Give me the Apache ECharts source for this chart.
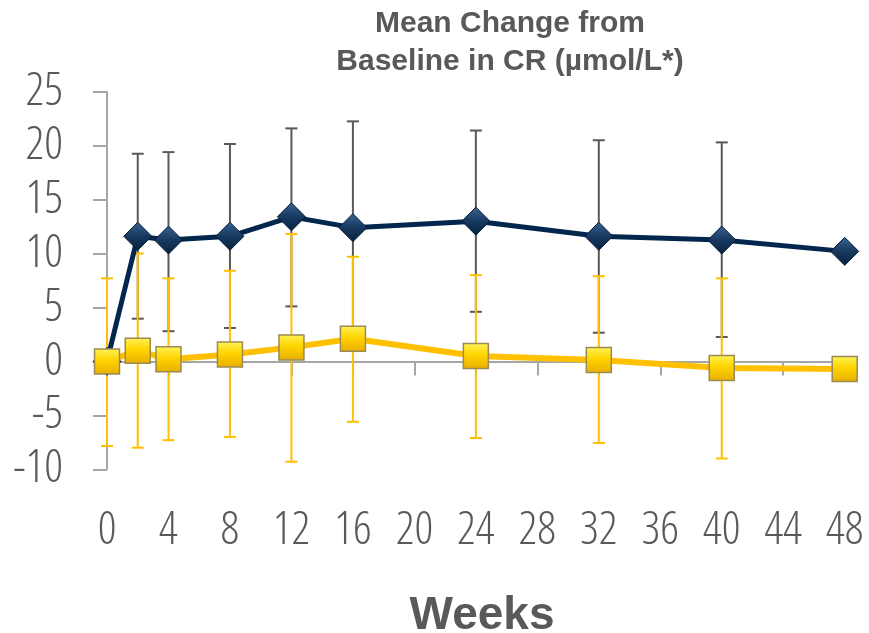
<!DOCTYPE html>
<html>
<head>
<meta charset="utf-8">
<script src="https://cdn.jsdelivr.net/npm/echarts@6/dist/echarts.min.js"></script>
<style>
  html, body { margin: 0; padding: 0; background: #ffffff; }
  #chart { width: 869px; height: 633px; }
</style>
</head>
<body>
<div id="chart"></div>
<script>
// Study weeks at which the measurements were taken
const weeks = [0, 2, 4, 8, 12, 16, 24, 32, 40, 48];
// Tick / label positions on the week axis
const weekTicks = [0, 4, 8, 12, 16, 20, 24, 28, 32, 36, 40, 44, 48];

// Navy series: mean change and error-bar limits
const navyMean  = [0, 11.6, 11.25, 11.6, 13.4, 12.4, 13.0, 11.6, 11.25, 10.2];
const navyUpper = [0, 19.25, 19.4, 20.15, 21.6, 22.25, 21.4, 20.5, 20.3, null];
const navyLower = [0, 3.96, 2.8, 3.1, 5.1, 2.6, 4.6, 2.66, 2.26, null];

// Gold series: mean change and error-bar limits
const goldMean  = [0, 1.0, 0.2, 0.65, 1.3, 2.1, 0.5, 0.13, -0.6, -0.7];
const goldUpper = [7.7, 10.0, 7.7, 8.4, 11.8, 9.7, 8.0, 7.9, 7.7, null];
const goldLower = [-7.84, -8.0, -7.3, -7.0, -9.3, -5.6, -7.1, -7.56, -9.0, null];

const yTicks = { min: -10, max: 25, step: 5 };

const NAVY = '#03264d';
const GOLD = '#ffc000';
const GREY_TEXT = '#595959';
const AXIS_GREY = '#a6a6a6';
// light, condensed face for the numeric tick labels
const TICK_FONT = { family: "'Open Sans', sans-serif", weight: '300 condensed', size: 46 };

function pairs(ys) { return weeks.map((w, i) => [w, ys[i]]); }
function errRows(lo, hi) {
  return weeks.map((w, i) => [w, lo[i], hi[i]]).filter(r => r[1] != null && r[2] != null);
}

function errorBarSeries(rows, color, width, z) {
  return {
    type: 'custom',
    z: z,
    silent: true,
    data: rows,
    encode: { x: 0, y: [1, 2] },
    renderItem: function (params, api) {
      const x = api.value(0);
      const lo = api.coord([x, api.value(1)]);
      const hi = api.coord([x, api.value(2)]);
      const half = 6;
      const style = { stroke: color, lineWidth: width, fill: null };
      return {
        type: 'group',
        children: [
          { type: 'line', shape: { x1: lo[0], y1: lo[1], x2: hi[0], y2: hi[1] }, style: style },
          { type: 'line', shape: { x1: hi[0] - half, y1: hi[1], x2: hi[0] + half, y2: hi[1] }, style: style },
          { type: 'line', shape: { x1: lo[0] - half, y1: lo[1], x2: lo[0] + half, y2: lo[1] }, style: style }
        ]
      };
    }
  };
}

const chart = echarts.init(document.getElementById('chart'), null, { renderer: 'canvas' });

chart.setOption({
  animation: false,
  backgroundColor: '#ffffff',
  title: {
    text: 'Mean Change from\nBaseline in CR (µmol/L*)',
    left: 505,
    top: 0,
    textAlign: 'center',
    textStyle: {
      fontFamily: 'Liberation Sans, Arial, sans-serif',
      fontSize: 30,
      fontWeight: 'bold',
      color: GREY_TEXT,
      lineHeight: 38
    }
  },
  grid: { left: 107, right: 12, top: 91.7, bottom: 163.7, containLabel: false, outerBoundsMode: 'none' },
  xAxis: [
    {
      // axis line through zero with downward ticks
      type: 'value',
      min: 0,
      max: 48.8,
      axisLine: { show: true, onZero: true, lineStyle: { color: AXIS_GREY, width: 2 } },
      axisTick: { show: true, length: 14, inside: false, customValues: weekTicks, lineStyle: { color: AXIS_GREY, width: 2 } },
      axisLabel: { show: false },
      splitLine: { show: false }
    },
    {
      // week labels along the bottom edge
      type: 'value',
      min: 0,
      max: 48.8,
      position: 'bottom',
      axisLine: { show: false, onZero: false },
      axisTick: { show: false },
      splitLine: { show: false },
      axisLabel: {
        show: true,
        customValues: weekTicks,
        margin: 39,
        fontFamily: TICK_FONT.family,
        fontWeight: TICK_FONT.weight,
        fontSize: TICK_FONT.size,
        color: GREY_TEXT
      },
      name: 'Weeks',
      nameLocation: 'middle',
      nameGap: 124,
      nameTextStyle: {
        fontFamily: 'Liberation Sans, Arial, sans-serif',
        fontSize: 46,
        fontWeight: 'bold',
        color: GREY_TEXT
      }
    }
  ],
  yAxis: {
    type: 'value',
    min: yTicks.min,
    max: yTicks.max,
    interval: yTicks.step,
    axisLine: { show: true, onZero: false, lineStyle: { color: AXIS_GREY, width: 2 } },
    axisTick: { show: true, length: 14, inside: false, lineStyle: { color: AXIS_GREY, width: 2 } },
    splitLine: { show: false },
    axisLabel: {
      margin: 44,
      fontFamily: TICK_FONT.family,
      fontWeight: TICK_FONT.weight,
      fontSize: TICK_FONT.size,
      color: GREY_TEXT
    }
  },
  series: [
    errorBarSeries(errRows(navyLower, navyUpper), '#595959', 2, 1),
    errorBarSeries(errRows(goldLower, goldUpper), GOLD, 2, 2),
    {
      type: 'line',
      z: 3,
      data: pairs(navyMean),
      lineStyle: { color: NAVY, width: 5 },
      symbol: 'diamond',
      symbolSize: [28, 28],
      itemStyle: {
        color: new echarts.graphic.LinearGradient(0, 0, 0, 1, [
          { offset: 0, color: '#3a6494' },
          { offset: 0.5, color: '#17395f' },
          { offset: 1, color: '#06213f' }
        ]),
        borderColor: '#061a33',
        borderWidth: 1
      }
    },
    {
      type: 'line',
      z: 4,
      data: pairs(goldMean),
      lineStyle: { color: GOLD, width: 6 },
      symbol: 'rect',
      symbolSize: 25,
      itemStyle: {
        color: new echarts.graphic.LinearGradient(0, 0, 0, 1, [
          { offset: 0, color: '#fff45a' },
          { offset: 0.45, color: '#ffd400' },
          { offset: 1, color: '#e8ae00' }
        ]),
        borderColor: '#9a8a55',
        borderWidth: 1.5
      }
    }
  ]
});
</script>
</body>
</html>
